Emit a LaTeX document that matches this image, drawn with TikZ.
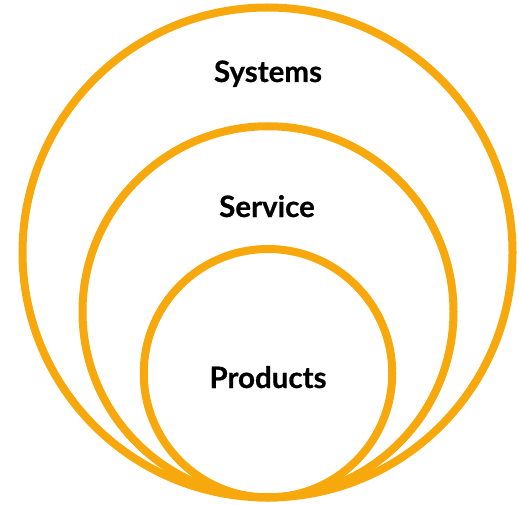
\documentclass[tikz,border=0pt]{standalone}
\usepackage{fontspec}
\setmainfont{Lato}[BoldFeatures={FakeBold=0.6}]
\definecolor{ring}{RGB}{246,168,12}
\begin{document}
\begin{tikzpicture}[x=1pt,y=1pt,
  ringstyle/.style={draw=ring,line width=8pt,fill=none},
  lbl/.style={font=\fontsize{29.5}{32}\selectfont\bfseries,text=black,anchor=base,inner sep=0pt}]
\useasboundingbox (0,0) rectangle (519,504);
\draw[ringstyle] (267.5,251.5) circle (245);
\draw[ringstyle] (268,192.25) circle (185.5);
\draw[ringstyle] (268,130.75) circle (124.25);
\node[lbl] (sys) at (268,422) {Systems};
\node[lbl] (svc) at (267,287) {Service};
\node[lbl] (prd) at (268,116) {Products};
\end{tikzpicture}
\end{document}
